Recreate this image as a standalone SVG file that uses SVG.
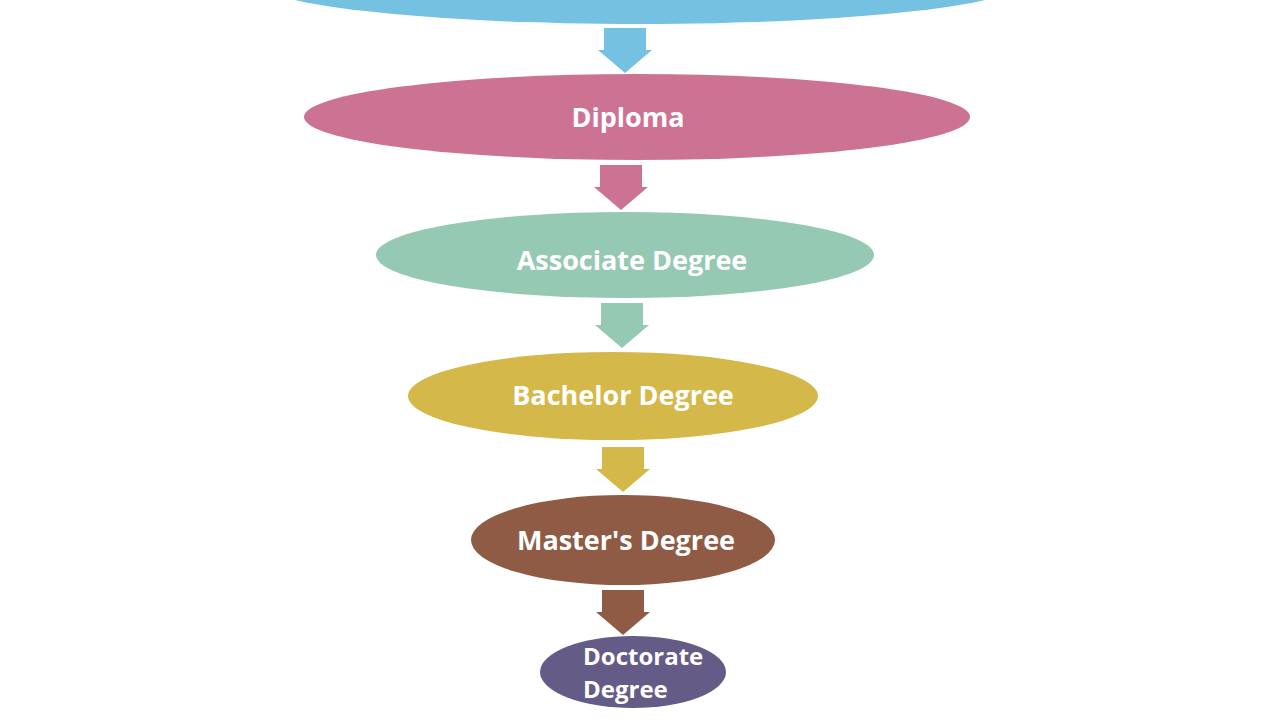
<svg xmlns="http://www.w3.org/2000/svg" width="1280" height="720" viewBox="0 0 1280 720">
<style>
.lbl{font-family:"Open Sans","Liberation Sans",sans-serif;font-weight:bold;font-size:27px;fill:#ffffff;text-anchor:middle}
.lbl2{font-family:"Open Sans","Liberation Sans",sans-serif;font-weight:bold;font-size:24px;fill:#ffffff}
</style>
<defs>
<path id="arr" d="M-21,0 H21 V22 H27 L0,45 L-27,22 H-21 Z"/>
</defs>
<rect width="1280" height="720" fill="#ffffff"/>
<g id="connectors">
<use href="#arr" x="625" y="28" fill="#75C1E2"/>
<use href="#arr" x="621" y="165" fill="#CC7394"/>
<use href="#arr" x="622" y="303" fill="#96C9B3"/>
<use href="#arr" x="623" y="447" fill="#D4B84A"/>
<use href="#arr" x="623" y="590" fill="#8F5B45"/>
</g>
<g id="top">
<ellipse cx="640" cy="-20" rx="388" ry="44" fill="#75C1E2"/>
</g>
<g id="diploma">
<ellipse cx="637" cy="117" rx="333" ry="43" fill="#CC7394"/>
<text class="lbl" x="628" y="127">Diploma</text>
</g>
<g id="associate">
<ellipse cx="625" cy="255" rx="249" ry="43" fill="#96C9B3"/>
<text class="lbl" x="632" y="270">Associate Degree</text>
</g>
<g id="bachelor">
<ellipse cx="613" cy="396" rx="205" ry="44" fill="#D4B84A"/>
<text class="lbl" x="623" y="405">Bachelor Degree</text>
</g>
<g id="masters">
<ellipse cx="623" cy="540" rx="152" ry="45" fill="#8F5B45"/>
<text class="lbl" x="626" y="550">Master's Degree</text>
</g>
<g id="doctorate">
<ellipse cx="633" cy="672" rx="93" ry="36" fill="#655B87"/>
<text class="lbl2" x="583" y="665">Doctorate</text>
<text class="lbl2" x="583" y="698">Degree</text>
</g>
</svg>
